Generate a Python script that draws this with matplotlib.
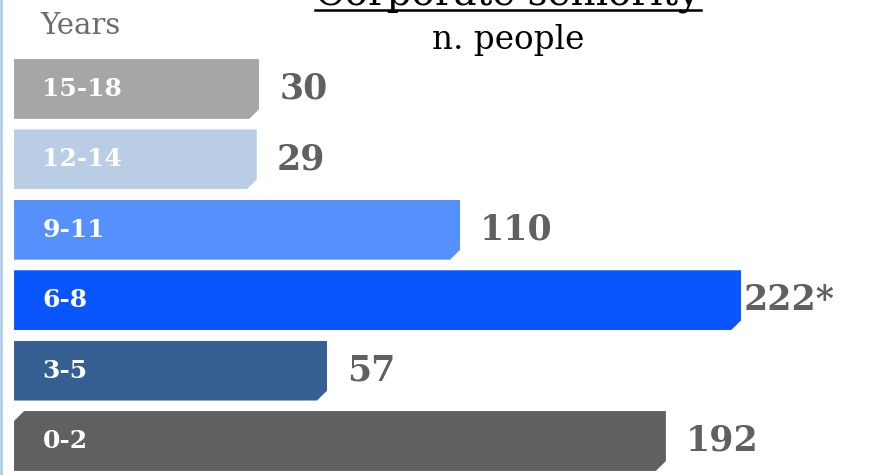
import matplotlib
matplotlib.use("Agg")
import matplotlib.pyplot as plt
from matplotlib.patches import Polygon
from matplotlib.lines import Line2D

# seniority bands, bottom to top
bands = ["0-2", "3-5", "6-8", "9-11", "12-14", "15-18"]
people = [192, 57, 222, 110, 29, 30]
value_labels = ["192", "57", "222*", "110", "29", "30"]
bar_colors = ["#606060", "#355f91", "#0a56fe", "#5690fd", "#b9cde5", "#a6a6a6"]

title = "Corporate seniority"
subtitle = "n. people"
axis_name = "Years"

W, H = 883, 475
fig = plt.figure(figsize=(W / 100, H / 100), dpi=100)
ax = fig.add_axes([0, 0, 1, 1])
ax.set_xlim(-73.3, 278.5)
ax.set_ylim(-0.483, 6.264)
ax.axis("off")

serif = "DejaVu Serif"
gutter = -67.7      # bars start left of zero to leave room for the band name
bar_h = 0.85
cut_x, cut_y = 4.0, 0.14   # chamfer on the corners

bars = ax.barh(range(len(bands)), [p - gutter for p in people], left=gutter,
               height=bar_h, color=bar_colors, linewidth=0)

for i, (b, band, lab) in enumerate(zip(bars, bands, value_labels)):
    x0, y0 = b.get_x(), b.get_y()
    x1, y1 = x0 + b.get_width(), y0 + b.get_height()
    pts = [(x0, y0), (x1 - cut_x, y0), (x1, y0 + cut_y), (x1, y1)]
    if band == "0-2":
        pts += [(x0 + cut_x, y1), (x0, y1 - cut_y)]
    else:
        pts += [(x0, y1)]
    clip = Polygon(pts, closed=True, transform=ax.transData)
    b.set_clip_path(clip)

    ax.text(x0 + 11.3, i, band, color="white", fontsize=18, fontweight="bold",
            family=serif, ha="left", va="center")
    off = 1 if lab.endswith("*") else 8
    ax.text(people[i] + off, i, lab, color="#606060", fontsize=25,
            fontweight="bold", family=serif, ha="left", va="center")

# header texts
t = fig.text(508 / W, 1 - 6 / H, title, fontsize=28, family=serif,
             ha="center", va="baseline", color="black")
fig.text(508 / W, 1 - 40 / H, subtitle, fontsize=23.5, family=serif,
         ha="center", va="center", color="black")
fig.text(40 / W, 1 - 26 / H, axis_name, fontsize=21, family=serif,
         ha="left", va="center", color="#6b6b6b")

fig.canvas.draw()
bb = t.get_window_extent()
fig.add_artist(Line2D([bb.x0 / W, bb.x1 / W], [1 - 9.5 / H, 1 - 9.5 / H],
                      transform=fig.transFigure, color="black", lw=1.8))

# thin rule down the left edge
fig.add_artist(Line2D([1.2 / W, 1.2 / W], [0, 1], transform=fig.transFigure,
                      color="#a9c8e8", lw=1.8))

fig.savefig("out.png", dpi=100)
